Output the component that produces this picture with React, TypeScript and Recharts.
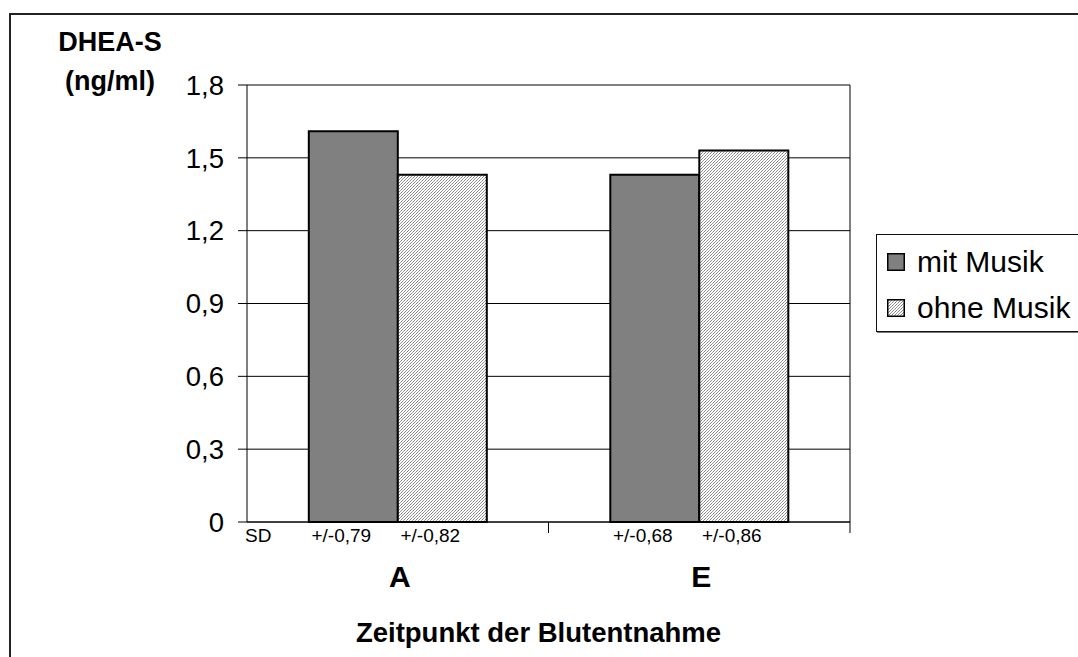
import React from 'react';
import { BarChart, Bar, XAxis, YAxis, CartesianGrid, Legend, LabelList } from 'recharts';

const FONT = 'Arial, "Liberation Sans", sans-serif';

const categories = ['A', 'E'];
const mitMusik = [1.61, 1.43];
const ohneMusik = [1.43, 1.53];
const sdMit = ['+/-0,79', '+/-0,68'];
const sdOhne = ['+/-0,82', '+/-0,86'];
const yTicks = [0, 0.3, 0.6, 0.9, 1.2, 1.5, 1.8];

const data = categories.map((cat, i) => ({
    cat,
    mit: mitMusik[i],
    ohne: ohneMusik[i],
    sdMit: sdMit[i],
    sdOhne: sdOhne[i],
}));

const fmt = (v: number) => (v === 0 ? '0' : v.toFixed(1).replace('.', ','));

// SD value printed under each bar
const SdLabel = (props: any) => {
    const { x, y, width, height, value } = props;
    return (
        <text x={x + width / 2 - 12} y={y + height + 19.5} textAnchor="middle" fontSize={19} fontFamily={FONT} fill="#000">
            {value}
        </text>
    );
};

const CategoryTick = ({ x, y, payload }: any) => (
    <text x={x + 2} y={y + 65} textAnchor="middle" fontSize={30} fontWeight="bold" fontFamily={FONT} fill="#000">
        {payload.value}
    </text>
);

// axis title, "SD" row header and the tick marks between the categories
const XAxisDecor = ({ viewBox }: any) => {
    const { x, y, width } = viewBox;
    const n = categories.length;
    const marks = [];
    for (let k = 1; k <= n; k++) {
        const px = x + (k * width) / n;
        marks.push(<line key={k} x1={px} x2={px} y1={y} y2={y + 11} stroke="#000" strokeWidth={1} />);
    }
    return (
        <g>
            {marks}
            <text x={x - 2} y={y + 19.5} fontSize={19} fontFamily={FONT} fill="#000">SD</text>
            <text x={x + width / 2 - 10} y={y + 119.5} textAnchor="middle" fontSize={27.5} fontWeight="bold" fontFamily={FONT} fill="#000">
                Zeitpunkt der Blutentnahme
            </text>
        </g>
    );
};

const YAxisTitle = ({ viewBox }: any) => {
    const { x, y } = viewBox;
    return (
        <g fontFamily={FONT} fontWeight="bold" fontSize={27} fill="#000" textAnchor="middle">
            <text x={x + 110} y={y - 34.5}>DHEA-S</text>
            <text x={x + 110} y={y + 5}>(ng/ml)</text>
        </g>
    );
};

const LegendBox = ({ payload }: any) => (
    <div style={{
        width: 220, height: 98, boxSizing: 'border-box', border: '1px solid #111', boxShadow: '1px 1px 0 #777',
        background: '#fff', paddingTop: 4, paddingLeft: 10, fontFamily: FONT, fontSize: 30, color: '#000',
    }}>
        {(payload || []).map((entry: any) => (
            <div key={entry.value} style={{ height: 46, display: 'flex', alignItems: 'center' }}>
                <svg width={18} height={18} style={{ marginRight: 12 }}>
                    <rect x={0.75} y={0.75} width={16.5} height={16.5} fill={entry.color} stroke="#000" strokeWidth={1.5} />
                </svg>
                <span style={{ lineHeight: '46px' }}>{entry.value}</span>
            </div>
        ))}
    </div>
);

export default function App() {
    return (
        <div style={{ position: 'absolute', left: 0, top: 0, width: 1078, height: 657, overflow: 'hidden', background: '#fff', fontFamily: FONT }}>
            <svg width={0} height={0} style={{ position: 'absolute' }}>
                <defs>
                    {/* fine dotted diagonal hatch for "ohne Musik" */}
                    <pattern id="hatch" width={3} height={3} patternUnits="userSpaceOnUse">
                        <rect width={3} height={3} fill="#fff" />
                        <g shapeRendering="crispEdges">
                            <rect x={2} y={0} width={1} height={1} fill="#808080" />
                            <rect x={1} y={1} width={1} height={1} fill="#a0a0a0" />
                            <rect x={0} y={2} width={1} height={1} fill="#909090" />
                        </g>
                    </pattern>
                </defs>
            </svg>
            <div style={{ position: 'absolute', left: 9, top: 13, width: 1080, height: 660, borderTop: '2px solid #222', borderLeft: '2px solid #222' }} />
            <div style={{ position: 'absolute', left: 0, top: 0 }}>
                <BarChart
                    width={1078}
                    height={657}
                    data={data}
                    margin={{ top: 85, right: 228, bottom: 0, left: 0 }}
                    barCategoryGap="20.5%"
                    barGap={0}
                >
                    <CartesianGrid
                        stroke="#000"
                        verticalCoordinatesGenerator={({ offset }: any) => [offset.left + offset.width]}
                    />
                    <XAxis
                        dataKey="cat"
                        height={135}
                        tickLine={false}
                        tickSize={0}
                        tickMargin={0}
                        axisLine={{ stroke: '#000' }}
                        tick={<CategoryTick />}
                        label={{ content: <XAxisDecor /> }}
                    />
                    <YAxis
                        width={247}
                        domain={[0, 1.8]}
                        ticks={yTicks}
                        interval={0}
                        tickSize={9}
                        tickMargin={14}
                        tickFormatter={fmt}
                        axisLine={{ stroke: '#000' }}
                        tickLine={{ stroke: '#000' }}
                        tick={{ fill: '#000', fontSize: 27.5, fontFamily: FONT }}
                        label={{ content: <YAxisTitle /> }}
                    />
                    <Legend
                        layout="vertical"
                        align="center"
                        verticalAlign="middle"
                        wrapperStyle={{ left: 876, top: 234, width: 220 }}
                        content={<LegendBox />}
                    />
                    <Bar dataKey="mit" name="mit Musik" fill="#808080" stroke="#000" strokeWidth={2} isAnimationActive={false}>
                        <LabelList dataKey="sdMit" content={<SdLabel />} />
                    </Bar>
                    <Bar dataKey="ohne" name="ohne Musik" fill="url(#hatch)" stroke="#000" strokeWidth={2} isAnimationActive={false}>
                        <LabelList dataKey="sdOhne" content={<SdLabel />} />
                    </Bar>
                </BarChart>
            </div>
        </div>
    );
}
